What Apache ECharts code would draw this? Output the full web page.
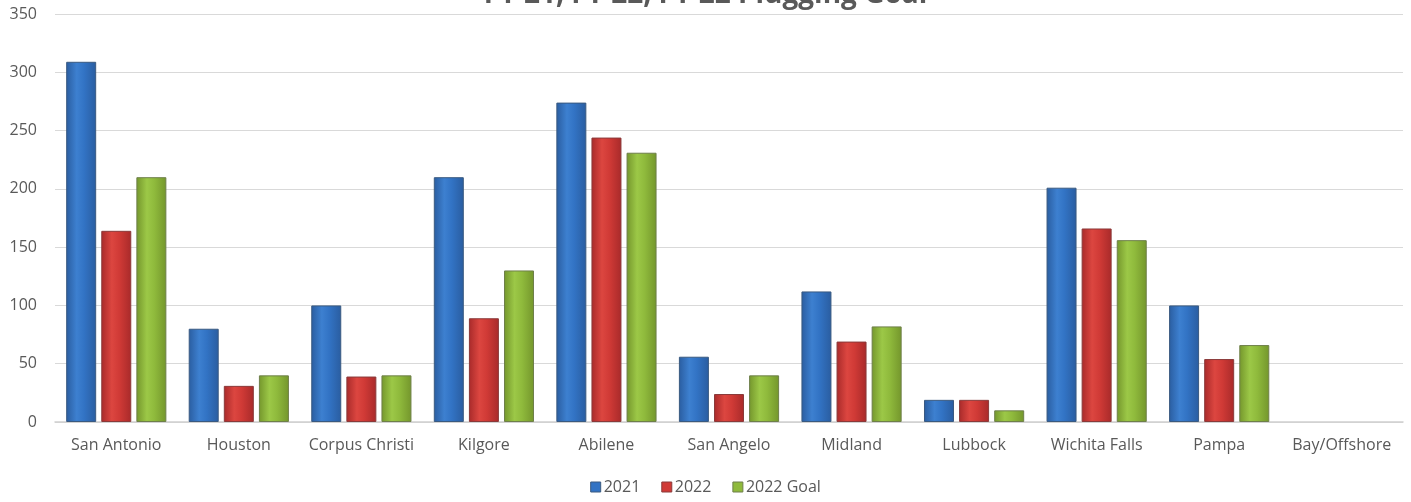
<!DOCTYPE html>
<html><head><meta charset="utf-8">
<script src="https://cdn.jsdelivr.net/npm/echarts@6/dist/echarts.min.js"></script>
<style>html,body{margin:0;padding:0;background:#fff}#c{width:1411px;height:502px}</style>
</head><body><div id="c"></div>
<script>
const categories = ['San Antonio','Houston','Corpus Christi','Kilgore','Abilene','San Angelo','Midland','Lubbock','Wichita Falls','Pampa','Bay/Offshore'];
const fy2021 = [309, 80, 100, 210, 274, 56, 112, 19, 201, 100, 0];
const fy2022 = [164, 31, 39, 89, 244, 24, 69, 19, 166, 54, 0];
const goal2022 = [210, 40, 40, 130, 231, 40, 82, 10, 156, 66, 0];
const seriesNames = ['2021', '2022', '2022 Goal'];

function grad(edge, mid, light) {
  return { type: 'linear', x: 0, y: 0, x2: 1, y2: 0, colorStops: [
    { offset: 0, color: edge }, { offset: 0.35, color: light }, { offset: 0.6, color: mid }, { offset: 1, color: edge }
  ]};
}
const styles = [
  { color: grad('#2a5da0', '#3273c4', '#3d80d0'), borderColor: '#3a5a80', legend: '#3273c4' },
  { color: grad('#a82a2a', '#d03a36', '#dc4640'), borderColor: '#8a3a3a', legend: '#d03a36' },
  { color: grad('#74962c', '#8fba3c', '#9cc847'), borderColor: '#6e7f4a', legend: '#8fba3c' }
];
const dataSets = [fy2021, fy2022, goal2022];

const chart = echarts.init(document.getElementById('c'));
chart.setOption({
  animation: false,
  title: { text: 'FY 21, FY 22, FY 22 Plugging Goal', left: 'center', top: -24,
    textStyle: { fontFamily: 'Open Sans', fontSize: 28, fontWeight: 'bold', color: '#595959' } },
  legend: { bottom: 2, left: 'center', itemWidth: 10, itemHeight: 10, itemGap: 21,
    icon: 'rect', textStyle: { fontFamily: 'Open Sans', fontSize: 16, color: '#595959', padding: [0, 0, 0, -2] },
    data: seriesNames.map((n, i) => ({ name: n, itemStyle: { color: styles[i].legend, borderColor: styles[i].borderColor, borderWidth: 1 } })) },
  grid: { left: 55, right: 8, top: 14, bottom: 80 },
  xAxis: { type: 'category', data: categories,
    axisLine: { lineStyle: { color: '#d0d0d0', width: 1.5 } }, axisTick: { show: false },
    axisLabel: { fontFamily: 'Open Sans', fontSize: 16, color: '#595959', margin: 15, interval: 0 } },
  yAxis: { type: 'value', min: 0, max: 350, interval: 50,
    axisLine: { show: false }, axisTick: { show: false },
    splitLine: { lineStyle: { color: '#d9d9d9', width: 1 } },
    axisLabel: { fontFamily: 'Open Sans', fontSize: 16, color: '#595959', margin: 18 } },
  series: dataSets.map((d, i) => ({
    name: seriesNames[i], type: 'bar', barWidth: 30, barGap: '17%',
    data: d.map(v => v === 0 ? { value: v, itemStyle: { borderWidth: 0, opacity: 0 } } : v),
    itemStyle: { color: styles[i].color, borderColor: styles[i].borderColor, borderWidth: 1 }
  }))
});
</script></body></html>
